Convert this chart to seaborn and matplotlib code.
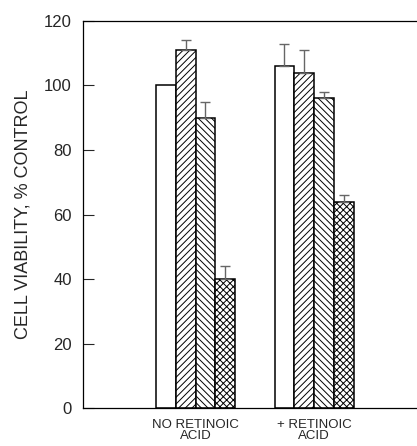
import matplotlib
matplotlib.use("Agg")
import matplotlib.pyplot as plt
import seaborn as sns
import pandas as pd

# Cell viability by condition and treatment
conditions = ["NO RETINOIC\nACID", "+ RETINOIC\nACID"]
treatments = ["Control", "Treatment A", "Treatment B", "Treatment C"]
viability = [
    [100, 111, 90, 40],
    [106, 104, 96, 64],
]
errors = [
    [0, 3, 5, 4],
    [7, 7, 2, 2],
]
hatches = ["", "/////", "\\\\\\\\\\", "xxxxx"]

rows = []
for ci, cond in enumerate(conditions):
    for ti, tr in enumerate(treatments):
        rows.append({"condition": cond, "treatment": tr,
                     "viability": viability[ci][ti], "err": errors[ci][ti]})
df = pd.DataFrame(rows)

sns.set_style("ticks")
plt.rcParams["font.family"] = ["Liberation Sans", "DejaVu Sans"]
plt.rcParams["hatch.linewidth"] = 0.7

fig = plt.figure(figsize=(4.17, 4.46), dpi=100)
ax = fig.add_axes([0.199, 0.085, 0.81, 0.868])

sns.barplot(data=df, x="condition", y="viability", hue="treatment",
            hue_order=treatments, order=conditions, width=0.667,
            palette=["white"] * 4, edgecolor="black", linewidth=1.1,
            errorbar=None, legend=False, ax=ax)

# Patches are ordered by hue level, then by category
for ti in range(len(treatments)):
    for ci in range(len(conditions)):
        bar = ax.patches[ti * len(conditions) + ci]
        bar.set_hatch(hatches[ti])
        err = errors[ci][ti]
        if err > 0:
            xc = bar.get_x() + bar.get_width() / 2
            ax.errorbar(xc, viability[ci][ti], yerr=[[0], [err]], fmt="none",
                        ecolor="#666666", elinewidth=1.0, capsize=3.5,
                        capthick=1.0, zorder=1)

ax.set_xlim(-0.95, 1.9)
ax.set_ylim(0, 120)
ax.set_yticks([0, 20, 40, 60, 80, 100, 120])
ax.tick_params(axis="y", direction="in", length=8, width=0.8, labelsize=12, pad=8)
ax.tick_params(axis="x", length=0, labelsize=9.5, pad=8)
ax.set_xlabel("")
ax.set_ylabel("CELL VIABILITY, % CONTROL", fontsize=13, labelpad=9)
for side in ["left", "bottom", "top"]:
    ax.spines[side].set_visible(True)
    ax.spines[side].set_linewidth(0.9)
    ax.spines[side].set_color("black")
ax.spines["right"].set_visible(False)
for lbl in ax.get_xticklabels():
    lbl.set_multialignment("center")
    lbl.set_linespacing(0.85)

fig.savefig("out.png", dpi=100)
